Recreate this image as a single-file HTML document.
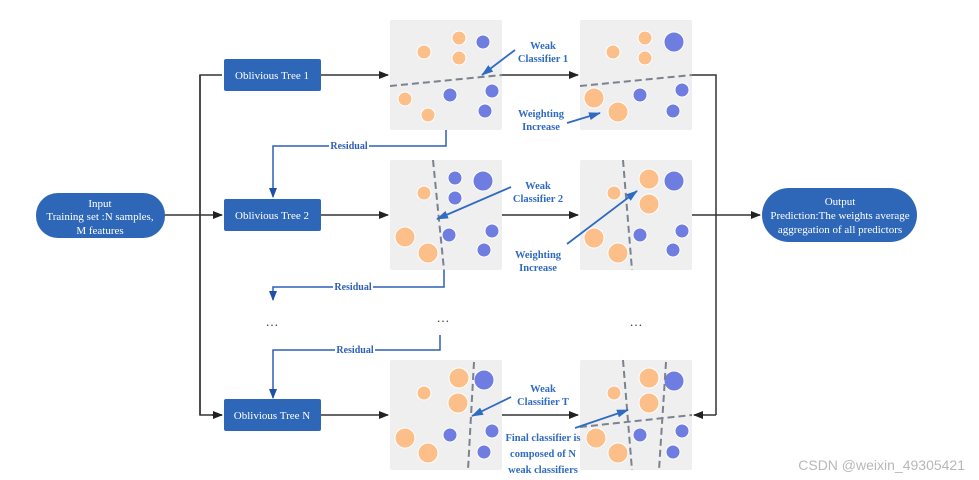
<!DOCTYPE html>
<html><head><meta charset="utf-8"><style>
html,body{margin:0;padding:0;background:#fff;}
svg{display:block;}
text{font-family:"Liberation Serif",serif;}
</style></head><body>
<svg width="979" height="480" viewBox="0 0 979 480" xmlns="http://www.w3.org/2000/svg">
<defs>
<marker id="ak" markerWidth="10" markerHeight="8" refX="9" refY="4" orient="auto" markerUnits="userSpaceOnUse"><path d="M0,0 L10,4 L0,8 z" fill="#222"/></marker>
<marker id="ab" markerWidth="10" markerHeight="8" refX="9" refY="4" orient="auto" markerUnits="userSpaceOnUse"><path d="M0,0 L10,4 L0,8 z" fill="#1f4fa8"/></marker>
<marker id="ab2" markerWidth="12" markerHeight="8" refX="11" refY="4" orient="auto" markerUnits="userSpaceOnUse"><path d="M0,0 L12,4 L0,8 z" fill="#2f6bc0"/></marker>
</defs>
<!-- panels -->
<g fill="#efefef">
<rect x="390" y="20" width="112" height="110" rx="2"/>
<rect x="580" y="20" width="112" height="110" rx="2"/>
<rect x="390" y="160" width="112" height="110" rx="2"/>
<rect x="580" y="160" width="112" height="110" rx="2"/>
<rect x="390" y="360" width="112" height="110" rx="2"/>
<rect x="580" y="360" width="112" height="110" rx="2"/>
</g>
<!-- circles -->
<g fill="#fdbf8a" stroke="#fff" stroke-width="1">
<circle cx="424" cy="52" r="7"/><circle cx="459" cy="38" r="7"/><circle cx="459" cy="58" r="7"/><circle cx="405" cy="99" r="7"/><circle cx="428" cy="115" r="7"/>
<circle cx="613" cy="52" r="7"/><circle cx="645" cy="38" r="7"/><circle cx="645" cy="58" r="7"/><circle cx="594" cy="98" r="10"/><circle cx="618" cy="112" r="10"/>
<circle cx="424" cy="193" r="7"/><circle cx="405" cy="237" r="10"/><circle cx="428" cy="253" r="10"/>
<circle cx="614" cy="193" r="7"/><circle cx="649" cy="179" r="10"/><circle cx="649" cy="204" r="10"/><circle cx="594" cy="238" r="10"/><circle cx="618" cy="253" r="10"/>
<circle cx="424" cy="393" r="7"/><circle cx="459" cy="378" r="10"/><circle cx="458" cy="403" r="10"/><circle cx="405" cy="438" r="10"/><circle cx="428" cy="453" r="10"/>
<circle cx="614" cy="393" r="7"/><circle cx="649" cy="378" r="10"/><circle cx="649" cy="403" r="10"/><circle cx="596" cy="438" r="10"/><circle cx="618" cy="453" r="10"/>
</g>
<g fill="#6f7de0" stroke="#fff" stroke-width="1">
<circle cx="483" cy="42" r="7"/><circle cx="450" cy="95" r="7"/><circle cx="492" cy="91" r="7"/><circle cx="485" cy="111" r="7"/>
<circle cx="674" cy="42" r="10"/><circle cx="640" cy="95" r="7"/><circle cx="682" cy="90" r="7"/><circle cx="673" cy="111" r="7"/>
<circle cx="455" cy="178" r="7"/><circle cx="483" cy="181" r="10"/><circle cx="455" cy="198" r="7"/><circle cx="449" cy="235" r="7"/><circle cx="492" cy="231" r="7"/><circle cx="484" cy="250" r="7"/>
<circle cx="674" cy="181" r="10"/><circle cx="640" cy="235" r="7"/><circle cx="682" cy="231" r="7"/><circle cx="673" cy="250" r="7"/>
<circle cx="484" cy="380" r="10"/><circle cx="450" cy="435" r="7"/><circle cx="492" cy="431" r="7"/><circle cx="484" cy="452" r="7"/>
<circle cx="674" cy="381" r="10"/><circle cx="640" cy="435" r="7"/><circle cx="682" cy="431" r="7"/><circle cx="673" cy="452" r="7"/>
</g>
<!-- dashed splits -->
<g stroke="#7a8290" stroke-width="2" stroke-dasharray="7,4" fill="none">
<line x1="390" y1="86" x2="502" y2="75"/><line x1="580" y1="86" x2="692" y2="75"/>
<line x1="433" y1="160" x2="444" y2="270"/><line x1="623" y1="160" x2="632" y2="270"/>
<line x1="474" y1="362" x2="468" y2="470"/>
<line x1="623" y1="360" x2="632" y2="470"/><line x1="666" y1="362" x2="659" y2="470"/><line x1="580" y1="427" x2="692" y2="415"/>
</g>
<!-- black connectors -->
<g stroke="#333" stroke-width="1.5" fill="none">
<line x1="165" y1="215" x2="222" y2="215" marker-end="url(#ak)"/>
<polyline points="222,75 200,75 200,415 222,415" />
<line x1="200" y1="75" x2="200" y2="415"/>
<line x1="212" y1="415" x2="222" y2="415" marker-end="url(#ak)"/>
<line x1="321" y1="75" x2="388" y2="75" marker-end="url(#ak)"/>
<line x1="321" y1="215" x2="388" y2="215" marker-end="url(#ak)"/>
<line x1="321" y1="415" x2="388" y2="415" marker-end="url(#ak)"/>
<line x1="502" y1="75" x2="578" y2="75" marker-end="url(#ak)"/>
<line x1="502" y1="215" x2="578" y2="215" marker-end="url(#ak)"/>
<line x1="502" y1="415" x2="578" y2="415" marker-end="url(#ak)"/>
<polyline points="692,75 716,75 716,415"/>
<line x1="692" y1="215" x2="716" y2="215"/>
<line x1="716" y1="215" x2="760" y2="215" marker-end="url(#ak)"/>
<line x1="716" y1="415" x2="694" y2="415" marker-end="url(#ak)"/>
</g>
<!-- residual lines -->
<g stroke="#2f5fb8" stroke-width="1.5" fill="none">
<polyline points="446,130 446,146 273,146 273,197" marker-end="url(#ab)"/>
<polyline points="444,270 444,287 273,287 273,300" marker-end="url(#ab)"/>
<polyline points="440,335 440,350 273,350 273,398" marker-end="url(#ab)"/>
</g>
<g font-size="10" font-weight="bold" fill="#2f5fb8" text-anchor="middle">
<rect x="329" y="140" width="40" height="11" fill="#fff"/><text x="349" y="149">Residual</text>
<rect x="333" y="281" width="40" height="11" fill="#fff"/><text x="353" y="290">Residual</text>
<rect x="335" y="344" width="40" height="11" fill="#fff"/><text x="355" y="353">Residual</text>
</g>
<!-- annotation arrows -->
<g stroke="#2f6bc0" stroke-width="1.8" fill="none">
<line x1="515" y1="50" x2="482" y2="75" marker-end="url(#ab2)"/>
<line x1="567" y1="123" x2="600" y2="113" marker-end="url(#ab2)"/>
<line x1="511" y1="187" x2="437" y2="219" marker-end="url(#ab2)"/>
<line x1="567" y1="244" x2="637" y2="191" marker-end="url(#ab2)"/>
<line x1="511" y1="397" x2="472" y2="416" marker-end="url(#ab2)"/>
<line x1="575" y1="428" x2="628" y2="410" marker-end="url(#ab2)"/>
</g>
<g font-size="10.5" font-weight="bold" fill="#2f6bc0" text-anchor="middle">
<text x="543" y="49">Weak</text><text x="543" y="62">Classifier 1</text>
<text x="541" y="117">Weighting</text><text x="541" y="130">Increase</text>
<text x="538" y="189">Weak</text><text x="538" y="202">Classifier 2</text>
<text x="538" y="258">Weighting</text><text x="538" y="271">Increase</text>
<text x="543" y="392">Weak</text><text x="543" y="405">Classifier T</text>
<text x="543" y="441">Final classifier is</text><text x="543" y="457">composed of N</text><text x="543" y="473">weak classifiers</text>
</g>
<!-- nodes -->
<rect x="36" y="193" width="129" height="45" rx="22" fill="#2f67b8"/>
<rect x="224" y="59" width="97" height="32" rx="2" fill="#2f67b8"/>
<rect x="224" y="199" width="97" height="32" rx="2" fill="#2f67b8"/>
<rect x="224" y="399" width="97" height="32" rx="2" fill="#2f67b8"/>
<rect x="762" y="188" width="155" height="54" rx="27" fill="#2f67b8"/>
<g font-size="11" fill="#fff" text-anchor="middle">
<text x="100" y="207">Input</text><text x="100" y="220">Training set :N samples,</text><text x="100" y="234">M features</text>
<text x="272" y="79">Oblivious Tree 1</text>
<text x="272" y="219">Oblivious Tree 2</text>
<text x="272" y="419">Oblivious Tree N</text>
<text x="840" y="205">Output</text><text x="840" y="219">Prediction:The weights average</text><text x="840" y="233">aggregation of all predictors</text>
</g>
<g font-size="13" fill="#333" text-anchor="middle">
<text x="272" y="326">…</text><text x="443" y="322">…</text><text x="636" y="326">…</text>
</g>
<text x="965" y="470" font-family="Liberation Sans,sans-serif" font-size="14" fill="#b8b8b8" text-anchor="end" style="font-family:'Liberation Sans',sans-serif">CSDN @weixin_49305421</text>
</svg>
</body></html>
